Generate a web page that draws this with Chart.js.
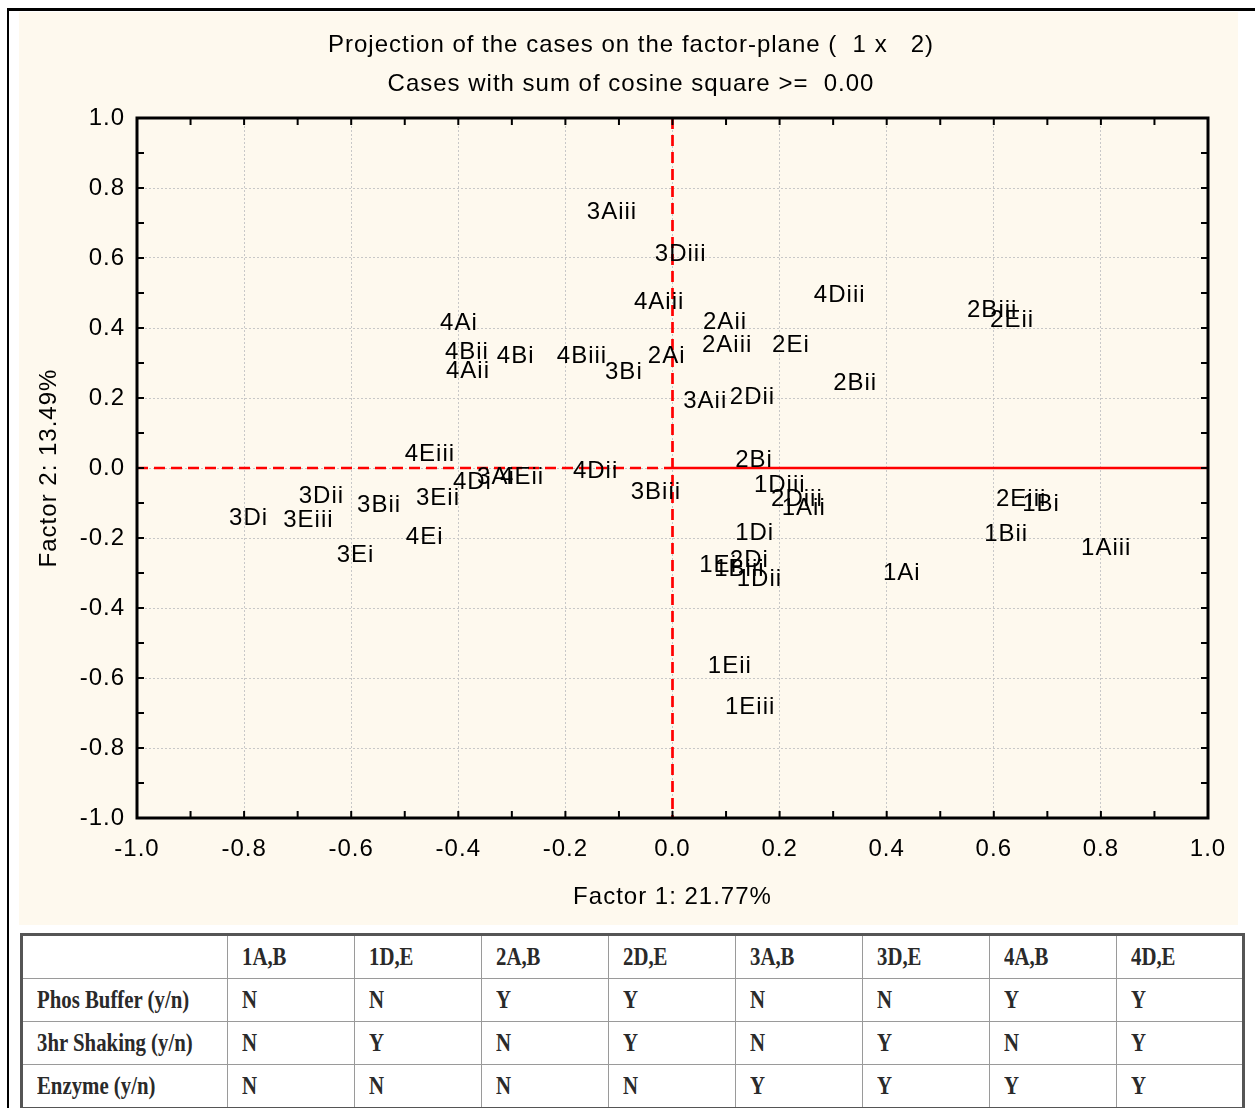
<!DOCTYPE html>
<html>
<head>
<meta charset="utf-8">
<title>Projection of the cases on the factor-plane</title>
<script src="https://cdn.jsdelivr.net/npm/chart.js@4.4.0/dist/chart.umd.min.js"></script>
<style>
  html, body { margin: 0; padding: 0; background: #fff; width: 1255px; height: 1108px; overflow: hidden; }
  #frameTop { position: absolute; left: 7px; top: 8px; width: 1248px; height: 3px; background: #000; }
  #frameLeft { position: absolute; left: 7px; top: 8px; width: 2px; height: 1100px; background: #000; }
  #panel { position: absolute; left: 19px; top: 12px; width: 1219px; height: 913px; background: #fef9ee; }
  #chart { display: block; }
  #design {
    position: absolute; left: 20px; top: 933px; width: 1225px; height: 172px;
    table-layout: fixed; border-collapse: collapse; border: 3px solid #555; background: #fff;
    font-family: "Liberation Serif", "DejaVu Serif", serif; color: #2a2a2a;
  }
  #design td { border: 1px solid #9a9a9a; padding: 0 0 0 14px; height: 42px; white-space: nowrap; overflow: hidden; }
  #design td span { display: inline-block; font-size: 26px; font-weight: bold; transform: scaleX(0.8); transform-origin: left center; }
</style>
</head>
<body>
<div id="frameTop"></div>
<div id="frameLeft"></div>
<div id="panel"><canvas id="chart" width="1219" height="913"></canvas></div>
<table id="design"></table>

<script>
// case labels and coordinates on factor 1 / factor 2
const caseLabels = [
  "1Ai", "1Aii", "1Aiii", "1Bi", "1Bii", "1Biii", "1Di", "1Dii", "1Diii", "1Ei", "1Eii", "1Eiii",
  "2Ai", "2Aii", "2Aiii", "2Bi", "2Bii", "2Biii", "2Di", "2Dii", "2Diii", "2Ei", "2Eii", "2Eiii",
  "3Ai", "3Aii", "3Aiii", "3Bi", "3Bii", "3Biii", "3Di", "3Dii", "3Diii", "3Ei", "3Eii", "3Eiii",
  "4Ai", "4Aii", "4Aiii", "4Bi", "4Bii", "4Biii", "4Di", "4Dii", "4Diii", "4Ei", "4Eii", "4Eiii"
];
const factor1 = [
  0.393, 0.204, 0.763, 0.653, 0.582, 0.078, 0.117, 0.120, 0.152, 0.050, 0.066, 0.098,
  -0.046, 0.057, 0.055, 0.117, 0.300, 0.550, 0.107, 0.107, 0.184, 0.186, 0.593, 0.604,
  -0.365, 0.020, -0.160, -0.126, -0.589, -0.078, -0.828, -0.698, -0.033, -0.627, -0.479, -0.727,
  -0.434, -0.423, -0.072, -0.328, -0.425, -0.216, -0.410, -0.186, 0.264, -0.498, -0.322, -0.500
];
const factor2 = [
  -0.300, -0.114, -0.229, -0.103, -0.191, -0.289, -0.186, -0.317, -0.051, -0.277, -0.566, -0.683,
  0.320, 0.417, 0.351, 0.023, 0.243, 0.451, -0.263, 0.203, -0.091, 0.349, 0.423, -0.089,
  -0.026, 0.189, 0.729, 0.274, -0.106, -0.069, -0.143, -0.080, 0.609, -0.249, -0.086, -0.149,
  0.414, 0.277, 0.474, 0.320, 0.329, 0.320, -0.040, -0.009, 0.494, -0.197, -0.026, 0.040
];
const tickValues = [-1.0, -0.8, -0.6, -0.4, -0.2, 0.0, 0.2, 0.4, 0.6, 0.8, 1.0];

// treatment table under the chart
const groups = ["1A,B", "1D,E", "2A,B", "2D,E", "3A,B", "3D,E", "4A,B", "4D,E"];
const phosBuffer = ["N", "N", "Y", "Y", "N", "N", "Y", "Y"];
const shaking = ["N", "Y", "N", "Y", "N", "Y", "N", "Y"];
const enzyme = ["N", "N", "N", "N", "Y", "Y", "Y", "Y"];

const FONT = "'Liberation Sans', Arial, sans-serif";

function buildTable() {
  const rows = [
    ["", ...groups],
    ["Phos Buffer (y/n)", ...phosBuffer],
    ["3hr Shaking (y/n)", ...shaking],
    ["Enzyme (y/n)", ...enzyme],
  ];
  const cols = '<colgroup><col style="width:206px">' + groups.map(() => "<col>").join("") + "</colgroup>";
  const t = document.getElementById("design");
  t.innerHTML =
    cols +
    rows
      .map((r) => "<tr>" + r.map((c) => `<td><span>${c}</span></td>`).join("") + "</tr>")
      .join("");
}

const fmt = (v) => (Math.abs(v) < 1e-9 ? "0.0" : v.toFixed(1));

// slightly wider letter spacing, like the original renderer
const spacingPlugin = {
  id: "spacing",
  beforeInit(chart) { chart.ctx.letterSpacing = "1px"; },
  beforeDraw(chart) { chart.ctx.letterSpacing = "1px"; },
};

// titles above the plot
const titlePlugin = {
  id: "titles",
  afterDraw(chart) {
    const ctx = chart.ctx;
    ctx.save();
    ctx.fillStyle = "#000";
    ctx.font = `24px ${FONT}`;
    ctx.textAlign = "center";
    ctx.textBaseline = "middle";
    ctx.fillText("Projection of the cases on the factor-plane (  1 x   2)", 612, 33);
    ctx.fillText("Cases with sum of cosine square >=  0.00", 612, 72);
    ctx.restore();
  },
};

// red reference lines through the origin
const originPlugin = {
  id: "origin",
  beforeDatasetsDraw(chart) {
    const { ctx, chartArea: a, scales: { x, y } } = chart;
    const x0 = x.getPixelForValue(0);
    const y0 = y.getPixelForValue(0);
    ctx.save();
    ctx.strokeStyle = "#ff0000";
    ctx.lineWidth = 2.7;
    ctx.setLineDash([11, 6]);
    ctx.beginPath();
    ctx.moveTo(a.left, y0);
    ctx.lineTo(x0, y0);
    ctx.moveTo(x0, a.top);
    ctx.lineTo(x0, a.bottom);
    ctx.stroke();
    ctx.setLineDash([]);
    ctx.beginPath();
    ctx.moveTo(x0, y0);
    ctx.lineTo(a.right, y0);
    ctx.stroke();
    ctx.restore();
  },
};

// case names written at their points
const labelPlugin = {
  id: "caseNames",
  afterDatasetsDraw(chart) {
    const ctx = chart.ctx;
    const meta = chart.getDatasetMeta(0);
    ctx.save();
    ctx.fillStyle = "#000";
    ctx.font = `24px ${FONT}`;
    ctx.textAlign = "left";
    ctx.textBaseline = "middle";
    meta.data.forEach((pt, i) => ctx.fillText(caseLabels[i], pt.x, pt.y));
    ctx.restore();
  },
};

// thick frame with inward minor ticks
const framePlugin = {
  id: "frame",
  afterDraw(chart) {
    const { ctx, chartArea: a, scales: { x, y } } = chart;
    ctx.save();
    ctx.strokeStyle = "#000";
    ctx.lineWidth = 2;
    ctx.beginPath();
    for (let i = -9; i <= 9; i++) {
      const px = x.getPixelForValue(i / 10);
      const py = y.getPixelForValue(i / 10);
      ctx.moveTo(px, a.bottom); ctx.lineTo(px, a.bottom - 7);
      ctx.moveTo(px, a.top); ctx.lineTo(px, a.top + 7);
      ctx.moveTo(a.left, py); ctx.lineTo(a.left + 7, py);
      ctx.moveTo(a.right, py); ctx.lineTo(a.right - 7, py);
    }
    ctx.stroke();
    ctx.lineWidth = 3;
    ctx.strokeRect(a.left, a.top, a.right - a.left, a.bottom - a.top);
    ctx.restore();
  },
};

function initChart() {
  const ctx = document.getElementById("chart").getContext("2d");
  new Chart(ctx, {
    type: "scatter",
    data: {
      datasets: [
        {
          label: "Cases",
          data: factor1.map((v, i) => ({ x: v, y: factor2[i] })),
          pointRadius: 0,
          pointHoverRadius: 0,
        },
      ],
    },
    options: {
      responsive: false,
      animation: false,
      events: [],
      layout: { padding: { top: 106, right: 30, left: 0, bottom: 0 } },
      plugins: { legend: { display: false }, tooltip: { enabled: false } },
      scales: {
        x: {
          type: "linear",
          min: -1,
          max: 1,
          afterBuildTicks: (s) => { s.ticks = tickValues.map((v) => ({ value: v })); },
          afterFit: (s) => { s.height = 107; s.paddingLeft = 0; s.paddingRight = 0; },
          ticks: { callback: fmt, color: "#000", font: { family: FONT, size: 24 }, padding: 17, maxRotation: 0 },
          grid: { color: "#c8c8c8", lineWidth: 1, drawTicks: false },
          border: { display: false, dash: [2, 2] },
          title: { display: true, text: "Factor 1: 21.77%", color: "#000", font: { family: FONT, size: 24 }, padding: { top: 0, bottom: 13 } },
        },
        y: {
          type: "linear",
          min: -1,
          max: 1,
          afterBuildTicks: (s) => { s.ticks = tickValues.map((v) => ({ value: v })); },
          afterFit: (s) => { s.width = 118; s.paddingTop = 0; s.paddingBottom = 0; },
          ticks: { callback: fmt, color: "#000", font: { family: FONT, size: 24 }, padding: 12 },
          grid: { color: "#c8c8c8", lineWidth: 1, drawTicks: false },
          border: { display: false, dash: [2, 2] },
          title: { display: true, text: "Factor 2: 13.49%", color: "#000", font: { family: FONT, size: 24 }, padding: { top: 16, bottom: 0 } },
        },
      },
    },
    plugins: [spacingPlugin, titlePlugin, originPlugin, labelPlugin, framePlugin],
  });
}

window.addEventListener("DOMContentLoaded", () => {
  buildTable();
  initChart();
});
</script>
</body>
</html>
